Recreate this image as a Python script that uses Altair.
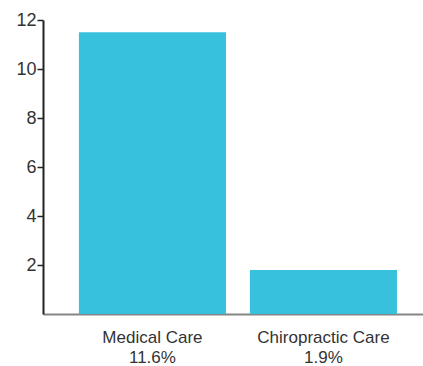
import altair as alt
import pandas as pd

categories = ["Medical Care", "Chiropractic Care"]
values = [11.5, 1.8]
value_labels = ["11.6%", "1.9%"]

df = pd.DataFrame({
    "cat": [f"{c}|{l}" for c, l in zip(categories, value_labels)],
    "value": values,
})

chart = alt.Chart(df).mark_bar(color="#38C1DD").encode(
    x=alt.X("cat:N", sort=None, title=None,
            scale=alt.Scale(paddingInner=0.14, paddingOuter=0.181, align=0.58),
            axis=alt.Axis(labelExpr="split(datum.label, '|')", labelAngle=0,
                          labelFont="Liberation Sans", labelFontSize=17,
                          labelColor="#333", labelLineHeight=20,
                          labelPadding=15, ticks=False,
                          domainColor="#000", domainOpacity=0.48, domainWidth=2)),
    y=alt.Y("value:Q", title=None,
            scale=alt.Scale(domain=[0, 12], nice=False),
            axis=alt.Axis(values=[2, 4, 6, 8, 10, 12], grid=False,
                          labelFont="Liberation Sans", labelFontSize=18,
                          labelColor="#333", labelPadding=1,
                          tickSize=6, tickColor="#222", tickWidth=1.5,
                          domainColor="#222", domainWidth=2)),
).properties(
    width=380, height=294,
    autosize=alt.AutoSizeParams(type="none"),
    padding={"left": 43, "top": 20, "right": 0, "bottom": 52},
).configure_view(stroke=None)

chart.save("out.html", embed_options={"renderer": "svg", "actions": False})
